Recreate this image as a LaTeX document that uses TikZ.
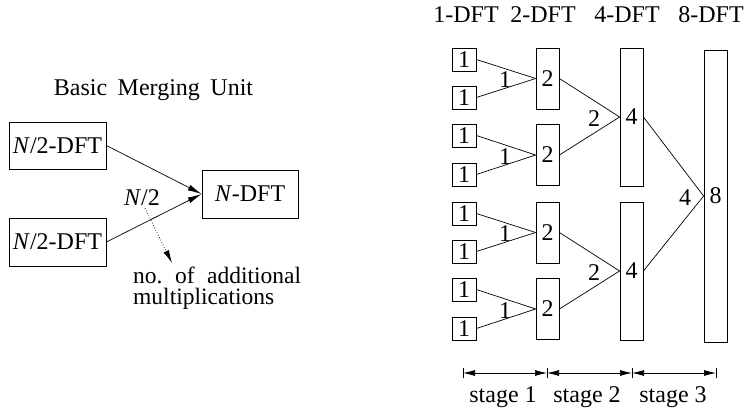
\documentclass[tikz,border=0pt]{standalone}
\usepackage{fontspec}
\setmainfont{Liberation Serif}
\usetikzlibrary{arrows.meta}
\begin{document}
\begin{tikzpicture}[x=1pt,y=-1pt,
  txt/.style={font=\fontsize{24}{24}\selectfont, inner sep=0pt},
  box/.style={draw, line width=0.8pt, inner sep=0pt, font=\fontsize{24}{24}\selectfont},
  onebox/.style={box, minimum width=24pt, minimum height=23pt},
  twobox/.style={box, minimum width=23pt, minimum height=61pt},
  fourbox/.style={box, minimum width=23pt, minimum height=138pt},
  eightbox/.style={box, minimum width=23pt, minimum height=292pt},
  conn/.style={line width=0.7pt},
  arr/.style={conn, -{Latex[length=14pt,width=6pt]}},
  dimarr/.style={conn, {Latex[length=12pt,width=6pt]}-{Latex[length=12pt,width=6pt]}},
]
\useasboundingbox (0,0) rectangle (744,415);

% ---------- left: basic merging unit ----------
\node[txt, anchor=base] (title) at (153.5,95) {Basic\hspace{10.5pt}Merging\hspace{10.5pt}Unit};
\node[box, minimum width=97pt, minimum height=47pt] (a) at (57.5,145.5) {\textit{N}/2-DFT};
\node[box, minimum width=97pt, minimum height=48pt] (b) at (57.5,242) {\textit{N}/2-DFT};
\node[box, minimum width=96pt, minimum height=48pt] (c) at (250,194) {\textit{N}-DFT};
\draw[arr] (a.east) -- (c.west);
\draw[arr] (b.east) -- (c.west);
\node[txt] (n2) at (142,198) {\textit{N}/2};
\coordinate (nm) at (172,263);
\draw[conn, dotted, -{Latex[length=13pt,width=6pt]}] ([xshift=3pt,yshift=-2pt]n2.south) -- (nm);
\node[txt, anchor=north west, align=left, font=\fontsize{23.5}{21}\selectfont] (note) at (133,266.5)
  {no.\hspace{12.5pt}of\hspace{12.5pt}additional\\multiplications};

% ---------- right: 8-point tree ----------
\node[txt, anchor=base] (h1) at (466,22) {1-DFT};
\node[txt, anchor=base] (h2) at (543,22) {2-DFT};
\node[txt, anchor=base] (h4) at (627,22) {4-DFT};
\node[txt, anchor=base] (h8) at (711,22) {8-DFT};

\node[onebox] (s1) at (464,59.5) {1};
\node[onebox] (s2) at (464,97.5) {1};
\node[onebox] (s3) at (464,135.5) {1};
\node[onebox] (s4) at (464,174.5) {1};
\node[onebox] (s5) at (464,213.5) {1};
\node[onebox] (s6) at (464,251.5) {1};
\node[onebox] (s7) at (464,289.5) {1};
\node[onebox] (s8) at (464,328.5) {1};

\node[twobox] (d1) at (547.5,78.5) {2};
\node[twobox] (d2) at (547.5,155) {2};
\node[twobox] (d3) at (547.5,232.5) {2};
\node[twobox] (d4) at (547.5,309) {2};

\node[fourbox] (q1) at (631.5,117) {4};
\node[fourbox] (q2) at (631.5,271) {4};

\node[eightbox] (e) at (715.5,196) {8};

\draw[conn] (s1.east) -- (d1.west);
\draw[conn] (s2.east) -- (d1.west);
\draw[conn] (s3.east) -- (d2.west);
\draw[conn] (s4.east) -- (d2.west);
\draw[conn] (s5.east) -- (d3.west);
\draw[conn] (s6.east) -- (d3.west);
\draw[conn] (s7.east) -- (d4.west);
\draw[conn] (s8.east) -- (d4.west);
\draw[conn] (d1.east) -- (q1.west);
\draw[conn] (d2.east) -- (q1.west);
\draw[conn] (d3.east) -- (q2.west);
\draw[conn] (d4.east) -- (q2.west);
\draw[conn] (q1.east) -- (e.west);
\draw[conn] (q2.east) -- (e.west);

\node[txt] (l1) at (505,80) {1};
\node[txt] (l2) at (505,156.5) {1};
\node[txt] (l3) at (505,234) {1};
\node[txt] (l4) at (505,310.5) {1};
\node[txt] (l5) at (594,119) {2};
\node[txt] (l6) at (594,273) {2};
\node[txt] (l7) at (685,198) {4};

% ---------- stage dimension lines ----------
\coordinate (t1) at (463,373);
\coordinate (t2) at (547,373);
\coordinate (t3) at (632,373);
\coordinate (t4) at (716,373);
\foreach \t in {t1,t2,t3,t4}
  \draw[conn] ([yshift=5pt]\t) -- ([yshift=-5pt]\t);
\draw[dimarr] (t1) -- (t2);
\draw[dimarr] (t2) -- (t3);
\draw[dimarr] (t3) -- (t4);
\node[txt, anchor=base] (st1) at (503,402) {stage 1};
\node[txt, anchor=base] (st2) at (587,402) {stage 2};
\node[txt, anchor=base] (st3) at (673,402) {stage 3};
\end{tikzpicture}
\end{document}
